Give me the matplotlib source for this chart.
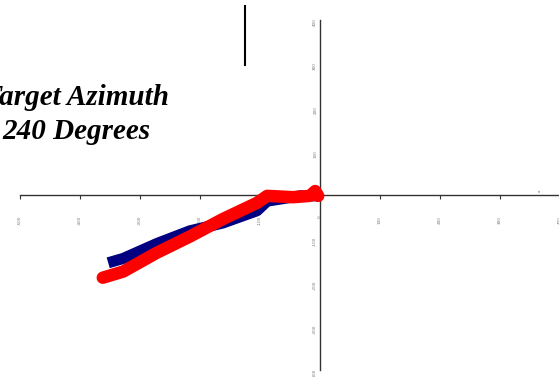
import matplotlib
matplotlib.use("Agg")
import matplotlib.pyplot as plt
from matplotlib.lines import Line2D

W, H = 559, 377

# Data
red_x = [-362, -328, -272, -217, -162, -105, -88, -45, -17, -8, -3]
red_y = [-189, -175, -132, -95, -55, -18, -2, -5, -2, 9, -2]
blue_x = [-353, -328, -272, -217, -162, -105, -88, -33, -3]
blue_y = [-155, -145, -111, -82, -64, -36, -14, -2, -2]

x_ticks = [-500, -400, -300, -200, -100, 0, 100, 200, 300, 400]
y_ticks = [-400, -300, -200, -100, 100, 200, 300, 400]
title_lines = ["Target Azimuth", "240 Degrees"]

fig = plt.figure(figsize=(W / 100, H / 100), dpi=100)
ax = fig.add_axes([20 / W, 7 / H, 540 / W, 350 / H])
ax.set_xlim(-500, 400)
ax.set_ylim(-400, 400)

ax.plot(blue_x, blue_y, color="#000080", lw=8, solid_capstyle="butt", zorder=3)
ax.plot(red_x, red_y, color="#ff0000", lw=9, solid_capstyle="round", zorder=4)

for s in ["top", "right"]:
    ax.spines[s].set_visible(False)
ax.spines["left"].set_position(("data", 0))
ax.spines["bottom"].set_position(("data", 0))
for s in ["left", "bottom"]:
    ax.spines[s].set_color("#333333")
    ax.spines[s].set_linewidth(1.0)

ax.set_xticks(x_ticks)
ax.set_xticklabels([str(v) for v in x_ticks], rotation=90, fontsize=3, color="#777777")
ax.set_yticks(y_ticks)
ax.set_yticklabels([str(v) for v in y_ticks], rotation=90, fontsize=3, color="#777777")
ax.tick_params(axis="x", direction="out", length=3, width=0.8, color="#333333", pad=12)
ax.tick_params(axis="y", length=0, pad=2)

fig.text(540 / W, 1 - 192 / H, "x", fontsize=3, color="#555555",
         rotation=90, ha="center", va="bottom")

fig.text(76 / W, 1 - 105 / H, title_lines[0], ha="center", va="baseline",
         fontsize=21, family="Liberation Serif", weight="bold", style="italic")
fig.text(76 / W, 1 - 139 / H, title_lines[1], ha="center", va="baseline",
         fontsize=21, family="Liberation Serif", weight="bold", style="italic")

fig.add_artist(Line2D([245 / W, 245 / W], [1 - 6 / H, 1 - 65 / H],
                      transform=fig.transFigure, color="black", lw=1.5))

fig.savefig("out.png", dpi=100)
